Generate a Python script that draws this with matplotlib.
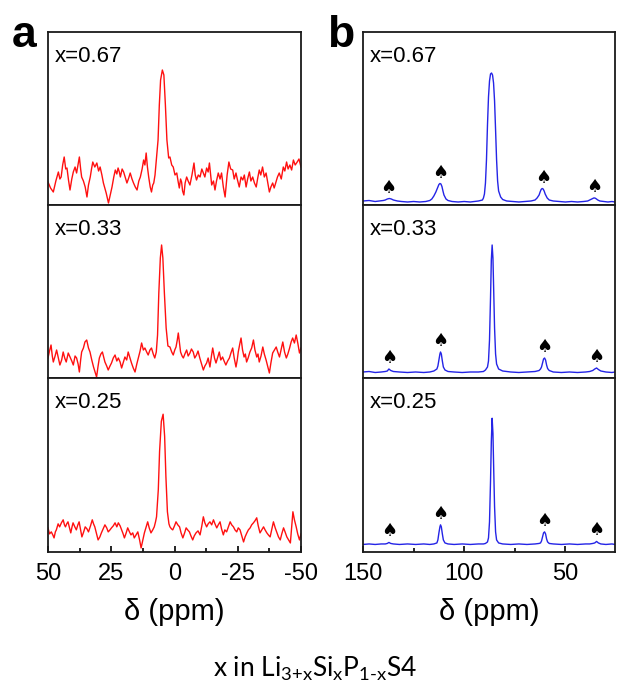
import matplotlib.pyplot as plt
import numpy as np

plt.rcParams['font.family'] = ['Liberation Sans', 'DejaVu Sans']
plt.rcParams['axes.unicode_minus'] = False
plt.rcParams['mathtext.fontset'] = 'custom'
plt.rcParams['mathtext.rm'] = 'Lato'
plt.rcParams['mathtext.default'] = 'regular'

# ---- panel a: 29Si spectra (noisy), intensity in a.u. ----
ppm_a67 = [50, 49, 47.9, 46.9, 45.9, 45.3, 44.8, 44.2, 43.6, 43, 42.5, 41.9, 41.3, 40.6, 40, 39.3,
           38.7, 38.1, 37.6, 37.1, 36.7, 36, 35.3, 34.9, 34.6, 34, 33.3, 32.8, 32.3, 31.5, 30.7, 30,
           29.4, 28.7, 28.1, 27, 26.1, 25.4, 24.7, 24, 23.4, 22.8, 22.3, 21.8, 21.4, 20.7, 20.1, 19.4,
           18.8, 18.1, 17.5, 16.8, 16.2, 15.5, 14.8, 14.1, 13.5, 12.8, 12.2, 11.7, 11.2, 10.7, 10.2,
           9.6, 9.1, 8.6, 8.2, 7.7, 7.3, 6.5, 6.0, 5.5, 4.8, 4.2, 3.6, 3.0, 2.3, 1.8, 1.1, 0.5, -0.2,
           -0.9, -1.4, -1.9, -2.4, -2.8, -3.2, -3.7, -4.2, -4.8, -5.4, -6.1, -6.9, -7.7, -8.2, -8.7,
           -9.4, -10.1, -10.8, -11.4, -12, -12.7, -13.3, -13.8, -14.3, -14.7, -15.4, -16, -16.6, -17.3,
           -18, -18.6, -19.3, -20, -20.8, -21.5, -22.2, -23, -23.6, -24.3, -24.9, -25.6, -26.3, -27,
           -27.6, -28.3, -28.9, -29.6, -30.2, -30.9, -31.6, -32.3, -32.9, -33.5, -34.1, -34.8, -35.5,
           -36.2, -36.9, -37.5, -38.1, -38.8, -39.4, -40.1, -40.7, -41.4, -42.2, -43, -43.6, -44.3,
           -44.9, -45.6, -46.3, -47, -47.7, -48.5, -49.2, -50]
int_a67 = [23, 17, 13, 24, 33, 26, 28, 40, 48, 36, 37, 25, 15, 26, 33, 38,
           32, 41, 48, 36, 28, 24, 18, 12, 8, 20, 28, 36, 43, 38, 42, 34,
           38, 30, 22, 12, 2, 10, 18, 28, 35, 31, 37, 33, 28, 36, 33, 27,
           22, 27, 32, 26, 22, 18, 15, 24, 28, 36, 45, 40, 52, 38, 28,
           18, 13, 20, 22, 30, 42, 65, 100, 125, 135, 130, 100, 65, 47, 48, 40, 38, 30,
           32, 24, 17, 26, 23, 14, 10, 22, 28, 24, 20, 30, 42, 30, 25,
           30, 28, 36, 32, 28, 37, 33, 42, 30, 20, 24, 15, 24, 32,
           26, 32, 18, 8, 30, 43, 36, 35, 26, 32, 25, 18, 28, 25,
           30, 18, 26, 33, 24, 28, 22, 18, 27, 35, 30, 38, 28,
           32, 22, 13, 18, 22, 17, 23, 28, 32, 26, 38, 34, 43,
           36, 40, 35, 45, 40, 43, 46, 38]

ppm_a33 = [50, 49.4, 48.8, 48.3, 47.9, 47.2, 46.6, 45.9, 45.3, 44.6, 44, 43.4, 42.8, 42, 41.3, 40.6,
           40, 39.3, 38.7, 38.1, 37.6, 37.1, 36.7, 36, 35.4, 34.7, 34, 33.4, 32.7, 32, 31.4, 30.8,
           30.2, 29.7, 29.1, 28.5, 28, 27.5, 26.8, 26.2, 25.5, 24.9, 24.2, 23.5, 22.8, 22.2, 21.5,
           20.9, 20.2, 19.6, 18.9, 18.3, 17.6, 17, 16.3, 15.6, 14.9, 14.3, 13.6, 13, 12.3, 11.7, 11,
           10.4, 9.7, 9.1, 8.4, 7.8, 7.2, 6.7, 6.2, 5.6, 5.1, 4.6, 4.0, 3.3, 2.6, 1.8, 1.1, 0.5, -0.1,
           -0.6, -1.1, -1.5, -2, -2.4, -3, -3.5, -4.1, -4.8, -5.4, -6.1, -6.7, -7.4, -8, -8.7, -9.3,
           -10, -10.7, -11.4, -12, -12.7, -13.3, -14, -14.6, -15.1, -15.8, -16.4, -17, -17.7, -18.3,
           -19, -19.6, -20.3, -21, -21.7, -22.3, -23, -23.6, -24.3, -24.8, -25.2, -25.8, -26.3, -26.9,
           -27.5, -28, -28.5, -29.1, -29.8, -30.5, -31.2, -31.8, -32.5, -33, -33.5, -34.2, -34.9,
           -35.5, -36.2, -36.8, -37.5, -38.1, -38.8, -39.5, -40.2, -40.8, -41.5, -42.1, -42.8, -43.5,
           -44.2, -44.8, -45.5, -46.1, -46.7, -47.4, -48.1, -48.8, -49.4, -50]
int_a33 = [20, 27, 33, 22, 16, 22, 28, 20, 13, 18, 26, 20, 16, 25, 21, 17,
           13, 22, 20, 14, 6, 18, 26, 30, 36, 38, 30, 26, 18, 11, 6, 1,
           12, 20, 24, 26, 21, 16, 12, 8, 12, 15, 20, 23, 17, 20, 16,
           10, 16, 21, 18, 26, 20, 15, 10, 6, 14, 20, 27, 35, 28, 30, 26,
           23, 28, 30, 24, 20, 26, 43, 85, 120, 133, 120, 85, 50, 32, 31, 26, 23, 28,
           31, 38, 45, 34, 26, 22, 20, 24, 28, 22, 25, 29, 26, 20, 23, 27,
           20, 14, 8, 12, 15, 20, 11, 22, 30, 20, 15, 20, 26, 18,
           21, 17, 13, 17, 20, 25, 30, 20, 11, 18, 26, 34, 40, 28,
           21, 24, 16, 20, 26, 30, 38, 28, 21, 24, 16, 22, 31,
           24, 18, 12, 5, 15, 25, 28, 31, 26, 21, 28, 36, 26,
           20, 24, 30, 36, 40, 35, 43, 34, 25, 30]

ppm_a25 = [50, 49.4, 48.7, 48.1, 47.6, 47.1, 46.7, 46, 45.4, 44.7, 44, 43.5, 43.1, 42.6, 42.1, 41.5,
           41, 40.5, 40.1, 39.4, 38.8, 38.2, 37.7, 37.1, 36.6, 35.9, 35.3, 34.6, 34, 33.2, 32.5, 32,
           31.5, 30.8, 30.2, 29.5, 28.9, 28.2, 27.5, 26.8, 26.2, 25.5, 24.9, 24.2, 23.5, 22.8, 22.2,
           21.5, 20.9, 20.3, 19.8, 19.1, 18.5, 17.8, 17.2, 16.5, 15.9, 15.2, 14.5, 13.8, 13.2, 12.5,
           11.9, 11.2, 10.6, 10, 9.3, 8.6, 8, 7.5, 7.1, 6.4, 5.9, 5.2, 4.5, 3.9, 3.4, 2.8, 2.2, 1.8,
           1.2, 0.7, 0, -0.6, -1.3, -2, -2.6, -3.3, -4, -4.6, -5.2, -5.9, -6.5, -7.2, -7.8, -8.5,
           -9.3, -10.1, -10.8, -11.4, -12, -12.7, -13.3, -14, -14.7, -15.4, -16, -16.7, -17.3, -18,
           -18.6, -19.3, -19.9, -20.6, -21.3, -22, -22.6, -23.3, -23.9, -24.6, -25.2, -25.9, -26.6,
           -27.3, -27.9, -28.6, -29.2, -29.9, -30.5, -31.2, -31.8, -32.5, -33.1, -33.8, -34.5, -35.2,
           -35.8, -36.5, -37.1, -37.8, -38.4, -39.1, -39.8, -40.5, -41.1, -41.8, -42.4, -43.1, -43.7,
           -44.4, -45.1, -45.8, -46.3, -46.8, -47.4, -48.1, -48.7, -49.4, -50]
int_a25 = [24, 18, 20, 17, 14, 20, 22, 28, 25, 29, 32, 27, 25, 28, 30, 24,
           19, 25, 29, 25, 22, 27, 30, 22, 15, 20, 25, 23, 20, 26, 32, 28,
           25, 18, 12, 15, 19, 23, 27, 24, 20, 22, 24, 26, 29, 25, 29,
           26, 22, 18, 14, 19, 24, 20, 17, 19, 14, 17, 20, 12, 4, 12,
           19, 25, 30, 24, 19, 22, 25, 30, 35, 62, 100, 130, 137, 115, 75, 40, 28, 25,
           23, 22, 26, 30, 27, 25, 19, 14, 19, 24, 22, 20, 16, 12, 16, 19,
           21, 17, 26, 35, 29, 25, 28, 30, 27, 32, 28, 24, 27, 30,
           23, 17, 22, 20, 25, 30, 27, 25, 22, 20, 24, 22, 16,
           10, 15, 19, 22, 24, 27, 29, 31, 34, 26, 19, 22, 25,
           22, 19, 17, 15, 22, 30, 24, 19, 15, 12, 18, 24, 20,
           15, 12, 9, 25, 40, 32, 25, 18, 12, 18]

# ---- panel b: 31P spectra with spinning sidebands ----
ppm_b67 = [150, 147, 144, 142, 140, 139, 138, 137, 136, 135, 133, 131, 128, 125, 122, 119, 117, 116,
           115, 114, 113, 112.5, 112, 111.5, 111, 110.5, 110, 109, 108, 106, 103, 100, 97, 95, 93, 92,
           91, 90.5, 90, 89.5, 89, 88.5, 88, 87.5, 87, 86.5, 86, 85.5, 85, 84.5, 84, 83.5, 83, 82, 81,
           79, 76, 73, 70, 67, 65, 64, 63, 62.5, 62, 61.5, 61, 60.5, 60, 59, 58, 56, 53, 50, 47, 44,
           41, 39, 38, 37, 36.5, 36, 35.5, 35, 34, 33, 31, 29, 27, 25.5]
int_b67 = [4, 4.5, 3.5, 4, 4.5, 5, 6, 6.5, 6, 5, 4, 3.5, 3, 3.5, 3, 3.5, 4.5, 6,
           9, 13, 18, 20.5, 21.5, 21, 18.5, 14, 10, 6, 4.5, 3.5, 3, 3.5, 3, 3.5, 4, 4.5,
           5, 7, 11, 22, 45, 80, 108, 124, 131, 132, 130, 122, 104, 75, 45, 24, 14, 8, 5.5,
           4, 3.5, 3, 3.5, 4, 5, 7, 10, 13, 15.5, 16.5, 16, 14, 11, 7, 5, 4, 3.5, 3, 3.5, 3,
           3.5, 4, 5, 6, 6.5, 7, 7, 6.5, 5, 4, 3.5, 3, 3.5, 3]

ppm_b33 = [150, 147, 144, 141, 139, 138, 137.2, 136.3, 135, 132, 128, 124, 120, 117, 115, 113.5, 113,
           112.5, 112, 111.7, 111.3, 110.8, 110.3, 109.5, 108, 105, 101, 97, 93, 90.5, 89.5, 88.5, 88,
           87.5, 87, 86.6, 86.2, 85.8, 85.4, 85, 84.5, 84, 83, 81, 77, 73, 69, 65, 63, 62.3, 61.8, 61.3,
           60.8, 60.3, 59.8, 59.3, 58.8, 58, 56, 52, 48, 44, 40, 38, 36.5, 35.5, 34.6, 33.7, 32.5, 30,
           27, 25.5]
int_b33 = [6, 6.5, 5.5, 6, 6.5, 7, 9, 7.5, 6.5, 6, 5.5, 6, 5.5, 6, 7, 9, 12,
           18, 24, 26, 24, 17, 11, 8, 6.5, 6, 5.5, 6, 6, 6.5, 8, 11, 17,
           38, 80, 118, 133, 120, 85, 50, 24, 14, 9, 7, 6, 5.5, 6, 6.5, 7.5, 9, 11, 15,
           19, 20, 18, 13, 9.5, 7.5, 6, 5.5, 6, 5.5, 6, 6.5, 7.5, 9, 10, 8.5, 7, 6,
           5.5, 6]

ppm_b25 = [150, 147, 144, 141, 139, 138, 137.2, 136.3, 135, 132, 128, 124, 120, 117, 115, 113.5, 113,
           112.5, 112, 111.7, 111.3, 110.8, 110.3, 109.5, 108, 105, 101, 97, 93, 90.5, 89.5, 88.5, 88,
           87.5, 87, 86.6, 86.2, 85.8, 85.4, 85, 84.5, 84, 83, 81, 77, 73, 69, 65, 63, 62.3, 61.8, 61.3,
           60.8, 60.3, 59.8, 59.3, 58.8, 58, 56, 52, 48, 44, 40, 38, 36.5, 35.5, 34.6, 33.7, 32.5, 30,
           27, 25.5]
int_b25 = [7.5, 8, 7.5, 8, 8, 8.5, 9.5, 8.5, 8, 7.5, 8, 7.5, 8, 7.5, 8, 9, 12,
           19, 25, 27, 25, 18, 12, 9, 8, 7.5, 8, 7.5, 8, 8, 8.5, 10, 14,
           30, 70, 110, 133, 118, 80, 45, 20, 12, 9, 8, 7.5, 8, 7.5, 8, 8.5, 9, 11, 15,
           19, 20, 18, 13, 10, 8.5, 8, 7.5, 8, 7.5, 8, 8, 8.5, 9, 10.5, 9, 8, 7.5,
           8, 7.5]

labels = ['x=0.67', 'x=0.33', 'x=0.25']
spectra_a = [(ppm_a67, int_a67), (ppm_a33, int_a33), (ppm_a25, int_a25)]
spectra_b = [(ppm_b67, int_b67), (ppm_b33, int_b33), (ppm_b25, int_b25)]
sidebands = [[137.3, 111.8, 61.1, 35.6], [137.2, 111.7, 60.5, 34.6], [137.2, 111.7, 60.3, 34.6]]

W, H = 633, 686
fig = plt.figure(figsize=(W / 100, H / 100), dpi=100)

row_px = [(32, 205), (205, 378), (378, 552)]
col_px = [(48, 301), (363, 615)]


def make_ax(col, row):
    x0, x1 = col_px[col]
    y0, y1 = row_px[row]
    ax = fig.add_axes([x0 / W, 1 - y1 / H, (x1 - x0) / W, (y1 - y0) / H])
    for s in ax.spines.values():
        s.set_linewidth(1.3)
        s.set_color('#1a1a1a')
    ax.set_ylim(0, 173)
    ax.set_yticks([])
    return ax


def bottom_axis(ax, major, minor):
    ax.set_xticks(major)
    ax.set_xticks(minor, minor=True)
    ax.tick_params(axis='x', which='both', direction='in', labelsize=17, pad=8, width=1.2)
    ax.tick_params(axis='x', which='major', length=4)
    ax.tick_params(axis='x', which='minor', length=3)
    ax.set_xlabel('δ (ppm)', fontsize=21, labelpad=9)


for i in range(3):
    # left column
    ax = make_ax(0, i)
    ppm, inten = spectra_a[i]
    ax.plot(ppm, inten, color='#ff1010', lw=1.0)
    ax.set_xlim(50, -50)
    ax.text(0.028, 0.827, labels[i], transform=ax.transAxes, fontsize=16, va='baseline')
    if i < 2:
        ax.set_xticks([])
    else:
        bottom_axis(ax, [50, 25, 0, -25, -50], [37.5, 12.5, -12.5, -37.5])

    # right column
    ax = make_ax(1, i)
    ppm, inten = spectra_b[i]
    ax.plot(ppm, inten, color='#2424e6', lw=1.0)
    ax.set_xlim(150, 25.5)
    ax.text(0.028, 0.827, labels[i], transform=ax.transAxes, fontsize=16, va='baseline')
    for sb in sidebands[i]:
        h = np.interp(-sb, -np.array(ppm), np.array(inten))
        ax.annotate('♠', (sb, h), xytext=(0, 1.5), textcoords='offset points',
                    ha='center', va='bottom', fontsize=13, family=['DejaVu Sans'])
    if i < 2:
        ax.set_xticks([])
    else:
        bottom_axis(ax, [150, 100, 50], [125, 75])

fig.text(12 / W, 1 - 47 / H, 'a', fontsize=32, fontweight='bold', va='baseline')
fig.text(327 / W, 1 - 47 / H, 'b', fontsize=32, fontweight='bold', va='baseline')
fig.text(315 / W, 1 - 677 / H, r'x in Li$_{\text{3+x}}$Si$_{x}$P$_{\text{1-x}}$S4', ha='center',
         va='baseline', fontsize=19, family=['Lato', 'DejaVu Sans'])

fig.savefig('out.png', dpi=100)
